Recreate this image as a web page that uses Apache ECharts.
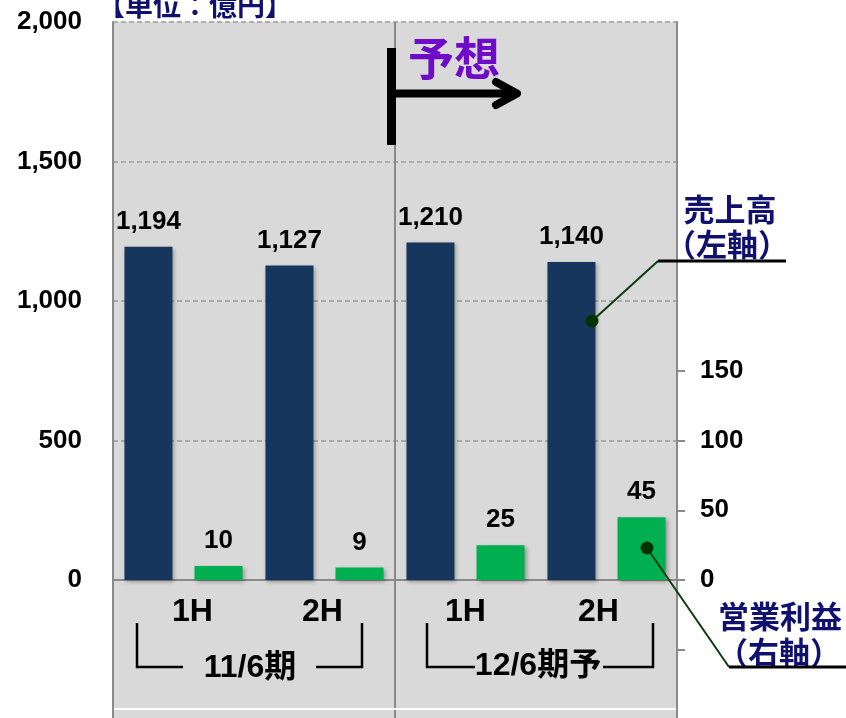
<!DOCTYPE html>
<html>
<head>
<meta charset="utf-8">
<script src="https://cdn.jsdelivr.net/npm/echarts@6/dist/echarts.min.js"></script>
<style>
html,body{margin:0;padding:0;background:#fff;}
#c{width:846px;height:718px;}
</style>
</head>
<body>
<div id="c"></div>
<script>
// ---- data ----
const categories = ['11/6期 1H', '11/6期 2H', '12/6期予 1H', '12/6期予 2H'];
const halfLabels = ['1H', '2H', '1H', '2H'];
const periodLabels = ['11/6期', '12/6期予'];
const salesValues = [1194, 1127, 1210, 1140];   // 売上高 (左軸, 億円)
const profitValues = [10, 9, 25, 45];           // 営業利益 (右軸, 億円)
const leftAxisLabels = [0, 500, 1000, 1500, 2000];
const rightAxisLabels = [0, 50, 100, 150];
const rightAxisTicks = [0, 50, 100, 150];

const FONT = '"Liberation Sans", Arial, "Noto Sans CJK JP", sans-serif';
const CJK = '"Noto Sans CJK JP", "Liberation Sans", sans-serif';
const NAVY_TXT = '#10106e';
const AXIS_GRAY = '#8a8a8a';
const labelPad = [[0,0,0,18],[0,4,0,0],[0,0,0,0],[0,16,0,0]];

function fmt(v){ return String(v).replace(/\B(?=(\d{3})+(?!\d))/g, ','); }

const chart = echarts.init(document.getElementById('c'), null, {renderer:'canvas'});

const option = {
  animation: false,
  backgroundColor: '#ffffff',
  grid: {
    left: 113, top: 22, width: 564, height: 558,
    show: true, backgroundColor: '#d9d9d9', borderWidth: 0,
    outerBoundsMode: 'none', containLabel: false
  },
  xAxis: {
    type: 'category',
    data: categories.map((c, i) => ({ value: c, textStyle: { padding: labelPad[i] } })),
    axisLine: { show: true, onZero: false, lineStyle: { color: AXIS_GRAY, width: 2 } },
    axisTick: { show: false },
    axisLabel: {
      formatter: (v, i) => halfLabels[i],
      color: '#000', fontSize: 32, fontWeight: 'bold', fontFamily: FONT, margin: 16
    },
    splitLine: { show: false }
  },
  yAxis: [
    {
      type: 'value', min: 0, max: 2000, interval: 500,
      position: 'left',
      axisLine: { show: true, lineStyle: { color: AXIS_GRAY, width: 2 } },
      axisTick: { show: false },
      axisLabel: {
        customValues: leftAxisLabels,
        formatter: v => fmt(v),
        color: '#000', fontSize: 26, fontWeight: 'bold', fontFamily: FONT, margin: 31
      },
      splitLine: { show: true, lineStyle: { color: '#9a9a9a', type: [5, 3], width: 1.5 } }
    },
    {
      type: 'value', min: 0, max: 400, interval: 50,
      position: 'right',
      axisLine: { show: true, lineStyle: { color: AXIS_GRAY, width: 2 } },
      axisTick: { show: true, customValues: rightAxisTicks, length: 8, inside: false, lineStyle: { color: AXIS_GRAY, width: 2 } },
      axisLabel: {
        customValues: rightAxisLabels,
        formatter: v => fmt(v),
        color: '#000', fontSize: 26, fontWeight: 'bold', fontFamily: FONT, margin: 23
      },
      splitLine: { show: false }
    }
  ],
  series: [
    {
      name: '売上高', type: 'bar', yAxisIndex: 0, data: salesValues,
      barWidth: 48, barGap: '46%',
      itemStyle: { color: '#17365d', shadowColor: 'rgba(0,0,0,0.3)', shadowBlur: 4, shadowOffsetX: 2, shadowOffsetY: 2 },
      label: { show: true, position: 'top', distance: 12, formatter: p => fmt(p.value),
               color: '#000', fontSize: 26, fontWeight: 'bold', fontFamily: FONT },
      z: 3
    },
    {
      name: '営業利益', type: 'bar', yAxisIndex: 1, data: profitValues,
      barWidth: 48, barGap: '46%',
      itemStyle: { color: '#00b050', shadowColor: 'rgba(0,0,0,0.3)', shadowBlur: 4, shadowOffsetX: 2, shadowOffsetY: 2 },
      label: { show: true, position: 'top', distance: 12, formatter: p => fmt(p.value),
               color: '#000', fontSize: 26, fontWeight: 'bold', fontFamily: FONT },
      z: 3
    }
  ],
  graphic: [
    // lower panel (category label area)
    { type: 'rect', z: 0, shape: { x: 113, y: 581, width: 564, height: 140 }, style: { fill: '#d9d9d9' } },
    { type: 'line', z: 1, shape: { x1: 113, y1: 580, x2: 113, y2: 718 }, style: { stroke: AXIS_GRAY, lineWidth: 2 } },
    { type: 'line', z: 1, shape: { x1: 677, y1: 580, x2: 677, y2: 718 }, style: { stroke: AXIS_GRAY, lineWidth: 2 } },
    { type: 'line', z: 1, shape: { x1: 677, y1: 650, x2: 685, y2: 650 }, style: { stroke: AXIS_GRAY, lineWidth: 2 } },
    // period divider & bottom white line
    { type: 'line', z: 1, shape: { x1: 395, y1: 22, x2: 395, y2: 718 }, style: { stroke: AXIS_GRAY, lineWidth: 2 } },
    { type: 'line', z: 1, shape: { x1: 114, y1: 709, x2: 676, y2: 709 }, style: { stroke: '#ffffff', lineWidth: 2 } },
    // unit
    { type: 'text', z: 10, x: 195, y: 5, style: { text: '【単位：億円】', font: 'bold 28px ' + CJK, fill: NAVY_TXT, align: 'center', verticalAlign: 'middle' } },
    // 予想 arrow
    { type: 'text', z: 10, x: 454, y: 58, style: { text: '予想', font: 'bold 46px ' + CJK, fill: '#6e0ac8', align: 'center', verticalAlign: 'middle' } },
    { type: 'rect', z: 10, shape: { x: 387, y: 48, width: 9, height: 97 }, style: { fill: '#000' } },
    { type: 'line', z: 10, shape: { x1: 396, y1: 93.5, x2: 514, y2: 93.5 }, style: { stroke: '#000', lineWidth: 8 } },
    { type: 'polyline', z: 10, shape: { points: [[496, 82], [517, 93.5], [496, 105]] }, style: { stroke: '#000', lineWidth: 8, lineCap: 'round', lineJoin: 'round', fill: null } },
    // period brackets
    { type: 'polyline', z: 10, shape: { points: [[137, 623], [137, 667], [183, 667]] }, style: { stroke: '#000', lineWidth: 2.5, fill: null } },
    { type: 'polyline', z: 10, shape: { points: [[316, 667], [362, 667], [362, 623]] }, style: { stroke: '#000', lineWidth: 2.5, fill: null } },
    { type: 'text', z: 10, x: 250, y: 668, style: { text: periodLabels[0], font: 'bold 32px ' + FONT, fill: '#000', align: 'center', verticalAlign: 'middle' } },
    { type: 'polyline', z: 10, shape: { points: [[427, 623], [427, 667], [475, 667]] }, style: { stroke: '#000', lineWidth: 2.5, fill: null } },
    { type: 'polyline', z: 10, shape: { points: [[603, 667], [653, 667], [653, 623]] }, style: { stroke: '#000', lineWidth: 2.5, fill: null } },
    { type: 'text', z: 11, x: 538, y: 666, style: { text: periodLabels[1], font: 'bold 32px ' + FONT, fill: '#000', align: 'center', verticalAlign: 'middle' } },
    // 売上高 callout
    { type: 'text', z: 10, x: 730, y: 209, style: { text: '売上高', font: 'bold 31px ' + CJK, fill: NAVY_TXT, align: 'center', verticalAlign: 'middle' } },
    { type: 'text', z: 10, x: 727, y: 244, style: { text: '（左軸）', font: 'bold 31px ' + CJK, fill: NAVY_TXT, align: 'center', verticalAlign: 'middle' } },
    { type: 'polyline', z: 12, shape: { points: [[592, 321], [658, 261]] }, style: { stroke: '#0b3d0b', lineWidth: 2, fill: null } },
    { type: 'line', z: 12, shape: { x1: 658, y1: 261, x2: 786, y2: 261 }, style: { stroke: '#000', lineWidth: 3 } },
    { type: 'circle', z: 13, shape: { cx: 592, cy: 321, r: 6.5 }, style: { fill: '#003300' } },
    // 営業利益 callout
    { type: 'text', z: 10, x: 780, y: 616, style: { text: '営業利益', font: 'bold 31px ' + CJK, fill: NAVY_TXT, align: 'center', verticalAlign: 'middle' } },
    { type: 'text', z: 10, x: 779, y: 652, style: { text: '（右軸）', font: 'bold 31px ' + CJK, fill: NAVY_TXT, align: 'center', verticalAlign: 'middle' } },
    { type: 'polyline', z: 12, shape: { points: [[647, 548], [729, 667]] }, style: { stroke: '#0b3d0b', lineWidth: 2, fill: null } },
    { type: 'line', z: 12, shape: { x1: 729, y1: 667, x2: 846, y2: 667 }, style: { stroke: '#000', lineWidth: 3 } },
    { type: 'circle', z: 13, shape: { cx: 647, cy: 548, r: 6.5 }, style: { fill: '#003300' } }
  ]
};
chart.setOption(option);
</script>
</body>
</html>
